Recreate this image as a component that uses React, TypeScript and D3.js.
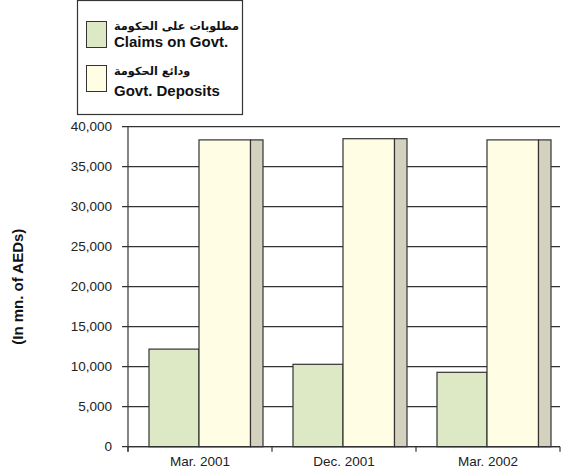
import React from "react";
import * as d3 from "d3";

const categories = ["Mar. 2001", "Dec. 2001", "Mar. 2002"];
const claimsOnGovt = [12200, 10300, 9300];
const govtDeposits = [38350, 38500, 38350];
const yTicks = [0, 5000, 10000, 15000, 20000, 25000, 30000, 35000, 40000];
const legendArabic = ["مطلوبات على الحكومة", "ودائع الحكومة"];
const legendEnglish = ["Claims on Govt.", "Govt. Deposits"];
const yTitle = "(In mn. of AEDs)";

const W = 564;
const H = 472;
const plot = { left: 128, right: 560, top: 126.7, bottom: 446.7 };

const GREEN = "#dce9c4";
const YELLOW = "#fffde4";
const GREY = "#d4d2be";
const LINE = "#333";

export default function App() {
  const x = d3.scaleBand<string>().domain(categories).range([plot.left, plot.right]).padding(0);
  const y = d3.scaleLinear().domain([0, 40000]).range([plot.bottom, plot.top]);
  const bw = x.bandwidth();
  const fmt = d3.format(",");
  const gOff = bw * (21 / 144);
  const gW = bw * (50 / 144);
  const yW = bw * (51.5 / 144);
  const sW = bw * (12.5 / 144);
  const font = "'Liberation Sans', Arial, sans-serif";

  return (
    <svg width={W} height={H} style={{ position: "absolute", left: 0, top: 0, background: "#fff" }}>
      {/* legend */}
      <rect x={77.5} y={0.5} width={165} height={114} fill="#fff" stroke={LINE} strokeWidth={1.2} />
      {[GREEN, YELLOW].map((c, i) => (
        <g key={i}>
          <rect x={86.5} y={21.5 + i * 44} width={20} height={26} fill={c} stroke={LINE} strokeWidth={1} />
          <text x={114} y={30 + i * 45} textAnchor="start" fontFamily="'DejaVu Sans', sans-serif" fontWeight="bold" fontSize={11.3} fill="#111">
            {legendArabic[i]}
          </text>
          <text x={114} y={47 + i * 49} fontFamily={font} fontWeight="bold" fontSize={15} fill="#111">
            {legendEnglish[i]}
          </text>
        </g>
      ))}

      {/* gridlines */}
      {yTicks.map((t) => (
        <g key={t}>
          <line x1={plot.left - 6} x2={plot.right} y1={y(t)} y2={y(t)} stroke={LINE} strokeWidth={1.2} />
          <text x={112} y={y(t)} dy="0.35em" textAnchor="end" fontFamily={font} fontSize={13.5} fill="#222">
            {fmt(t)}
          </text>
        </g>
      ))}

      {/* bars */}
      {categories.map((c, i) => {
        const x0 = x(c)!;
        return (
          <g key={c}>
            <rect x={x0 + gOff} y={y(claimsOnGovt[i])} width={gW} height={y(0) - y(claimsOnGovt[i])} fill={GREEN} stroke={LINE} strokeWidth={1.2} />
            <rect x={x0 + gOff + gW} y={y(govtDeposits[i])} width={yW} height={y(0) - y(govtDeposits[i])} fill={YELLOW} stroke={LINE} strokeWidth={1.2} />
            <rect x={x0 + gOff + gW + yW} y={y(govtDeposits[i])} width={sW} height={y(0) - y(govtDeposits[i])} fill={GREY} stroke={LINE} strokeWidth={1.2} />
            <text x={x0 + bw / 2} y={466} textAnchor="middle" fontFamily={font} fontSize={13.5} fill="#222">
              {c}
            </text>
          </g>
        );
      })}

      {/* axes */}
      <line x1={plot.left} x2={plot.left} y1={plot.top} y2={plot.bottom + 5} stroke={LINE} strokeWidth={1.2} />
      <line x1={plot.left} x2={plot.right} y1={plot.bottom} y2={plot.bottom} stroke={LINE} strokeWidth={1.2} />
      {[...categories.map((c) => x(c)!), plot.right].map((px, i) => (
        <line key={i} x1={px} x2={px} y1={plot.bottom} y2={plot.bottom + 5} stroke={LINE} strokeWidth={1.2} />
      ))}

      <text transform={`translate(23, ${(plot.top + plot.bottom) / 2}) rotate(-90)`} textAnchor="middle" fontFamily={font} fontWeight="bold" fontSize={15} fill="#111">
        {yTitle}
      </text>
    </svg>
  );
}
